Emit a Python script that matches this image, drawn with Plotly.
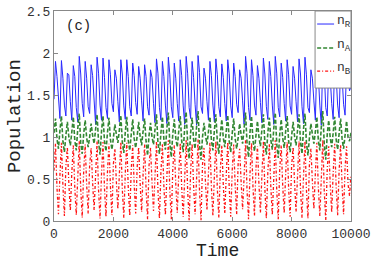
import plotly.graph_objects as go

# sample times (every 50 time units)
time = list(range(0, 10001, 50))

# n_R, one row per oscillation cycle (4 samples each)
nR_cycles = [
    [1.45,1.90,1.72,1.40],[1.22,1.91,1.70,1.38],[1.25,1.76,1.74,1.42],[1.20,1.85,1.72,1.35],
    [1.18,1.96,1.75,1.40],[1.24,1.90,1.70,1.36],[1.28,1.86,1.73,1.44],[1.15,1.95,1.76,1.38],
    [1.20,1.94,1.71,1.35],[1.22,1.92,1.74,1.40],[1.30,1.80,1.70,1.42],[1.18,1.92,1.75,1.37],
    [1.21,1.92,1.72,1.36],[1.25,1.88,1.73,1.41],[1.27,1.84,1.70,1.43],[1.19,1.86,1.72,1.36],
    [1.26,1.80,1.71,1.40],[1.17,1.93,1.76,1.35],[1.20,1.90,1.72,1.38],[1.16,1.95,1.74,1.36],
    [1.23,1.88,1.70,1.40],[1.19,1.92,1.73,1.37],[1.15,1.96,1.76,1.35],[1.22,1.90,1.71,1.39],
    [1.14,1.97,1.77,1.36],[1.28,1.82,1.70,1.42],[1.20,1.90,1.73,1.38],[1.18,1.93,1.74,1.36],
    [1.24,1.87,1.71,1.40],[1.19,1.92,1.75,1.37],[1.23,1.88,1.72,1.39],[1.29,1.80,1.70,1.43],
    [1.15,1.96,1.76,1.35],[1.20,1.92,1.73,1.38],[1.26,1.85,1.70,1.41],[1.17,1.94,1.75,1.36],
    [1.21,1.90,1.72,1.38],[1.15,1.96,1.76,1.35],[1.24,1.88,1.71,1.40],[1.19,1.92,1.74,1.37],
    [1.27,1.84,1.70,1.42],[1.18,1.93,1.75,1.36],[1.16,1.95,1.74,1.35],[1.29,1.80,1.70,1.43],
    [1.20,1.91,1.73,1.38],[1.14,1.98,1.77,1.35],[1.25,1.86,1.71,1.40],[1.21,1.90,1.73,1.38],
    [1.23,1.88,1.72,1.39],[1.26,1.83,1.70,1.55],
]
nR_end = [1.60]

nA_cycles = [
    [1.05,1.22,0.98,0.86],[1.08,1.25,0.95,0.82],[1.02,1.18,1.00,0.90],[1.06,1.24,0.96,0.84],
    [1.10,1.28,0.93,0.80],[1.04,1.20,0.99,0.88],[1.00,1.16,1.02,0.92],[1.09,1.27,0.94,0.79],
    [1.07,1.25,0.95,0.83],[1.05,1.23,0.97,0.85],[0.99,1.15,1.03,0.93],[1.08,1.26,0.94,0.81],
    [1.06,1.24,0.96,0.84],[1.03,1.21,0.98,0.87],[1.01,1.18,1.01,0.90],[1.07,1.22,0.95,0.78],
    [1.02,1.17,1.00,0.91],[1.09,1.27,0.93,0.80],[1.05,1.24,0.97,0.85],[1.10,1.29,0.92,0.76],
    [1.04,1.21,0.99,0.88],[1.07,1.25,0.95,0.82],[1.11,1.30,0.92,0.74],[1.05,1.23,0.97,0.86],
    [1.12,1.31,0.91,0.73],[1.00,1.17,1.02,0.91],[1.06,1.24,0.96,0.84],[1.08,1.27,0.94,0.80],
    [1.03,1.21,0.99,0.88],[1.07,1.26,0.95,0.82],[1.04,1.22,0.98,0.86],[0.99,1.16,1.03,0.92],
    [1.10,1.29,0.92,0.76],[1.06,1.25,0.96,0.83],[1.02,1.19,1.00,0.89],[1.09,1.27,0.93,0.79],
    [1.05,1.23,0.97,0.85],[1.10,1.29,0.92,0.75],[1.03,1.21,0.99,0.87],[1.07,1.25,0.95,0.82],
    [1.01,1.18,1.01,0.90],[1.08,1.27,0.94,0.80],[1.09,1.28,0.93,0.78],[0.99,1.16,1.03,0.92],
    [1.06,1.24,0.96,0.84],[1.12,1.31,0.91,0.73],[1.03,1.20,0.99,0.88],[1.05,1.24,0.97,0.85],
    [1.04,1.22,0.98,0.86],[1.02,1.19,1.00,0.95],
]
nA_end = [1.05]

nB_cycles = [
    [0.60,0.92,0.40,0.08],[0.55,0.93,0.42,0.06],[0.65,0.88,0.45,0.12],[0.58,0.90,0.40,0.07],
    [0.52,0.95,0.38,0.04],[0.60,0.91,0.43,0.09],[0.66,0.87,0.46,0.13],[0.54,0.95,0.37,0.03],
    [0.56,0.94,0.39,0.05],[0.58,0.92,0.41,0.07],[0.68,0.86,0.47,0.14],[0.55,0.94,0.38,0.04],
    [0.57,0.93,0.40,0.06],[0.61,0.90,0.43,0.09],[0.64,0.88,0.45,0.11],[0.56,0.91,0.39,0.02],
    [0.66,0.87,0.46,0.12],[0.53,0.95,0.37,0.03],[0.58,0.92,0.41,0.07],[0.52,0.96,0.36,0.02],
    [0.62,0.90,0.44,0.10],[0.56,0.93,0.39,0.05],[0.51,0.96,0.36,0.01],[0.59,0.92,0.42,0.08],
    [0.50,0.97,0.35,0.01],[0.67,0.87,0.46,0.13],[0.57,0.93,0.40,0.06],[0.54,0.95,0.38,0.04],
    [0.61,0.90,0.43,0.09],[0.55,0.94,0.39,0.05],[0.60,0.91,0.42,0.08],[0.68,0.86,0.47,0.14],
    [0.52,0.96,0.36,0.02],[0.57,0.93,0.40,0.06],[0.63,0.89,0.44,0.10],[0.54,0.95,0.38,0.03],
    [0.58,0.92,0.41,0.07],[0.51,0.96,0.36,0.02],[0.61,0.90,0.43,0.09],[0.56,0.94,0.39,0.05],
    [0.65,0.88,0.45,0.11],[0.54,0.95,0.38,0.04],[0.52,0.95,0.37,0.03],[0.68,0.86,0.47,0.14],
    [0.57,0.93,0.40,0.06],[0.50,0.97,0.35,0.01],[0.62,0.89,0.44,0.10],[0.58,0.92,0.41,0.07],
    [0.60,0.91,0.42,0.08],[0.63,0.89,0.44,0.30],
]
nB_end = [0.55]

nR = [v for row in nR_cycles for v in row] + nR_end
nA = [v for row in nA_cycles for v in row] + nA_end
nB = [v for row in nB_cycles for v in row] + nB_end

x_ticks = [0, 2000, 4000, 6000, 8000, 10000]
x_tick_labels = ["0", "2000", "4000", "6000", "8000", "10000"]
y_ticks = [0, 0.5, 1, 1.5, 2, 2.5]
y_tick_labels = ["0", "0.5", "1", "1.5", "2", "2.5"]
series_names = ["n<sub>R</sub>", "n<sub>A</sub>", "n<sub>B</sub>"]

mono = "Liberation Mono"
c_R = "rgb(40,40,255)"
c_A = "rgb(50,135,50)"
c_B = "rgb(255,20,20)"
d_A = "4px,2px"
d_B = "3px,2px,1px,2px"

fig = go.Figure()
fig.add_trace(go.Scatter(x=time, y=nR, mode="lines", name=series_names[0],
                         line=dict(color=c_R, width=1)))
fig.add_trace(go.Scatter(x=time, y=nA, mode="lines", name=series_names[1],
                         line=dict(color=c_A, width=1.6, dash=d_A)))
fig.add_trace(go.Scatter(x=time, y=nB, mode="lines", name=series_names[2],
                         line=dict(color=c_B, width=1.3, dash=d_B)))

axis_common = dict(showgrid=False, zeroline=False, showline=True, linecolor="#888888",
                   linewidth=1, mirror="ticks", ticks="inside", ticklen=4,
                   tickcolor="#888888", automargin=False,
                   tickfont=dict(family=mono, size=13, color="#333333"))

# hand-made legend box (to match the compact boxed legend of the original)
shapes = [dict(type="rect", xref="paper", yref="paper", x0=0.879, x1=1.0, y0=0.633, y1=1.0,
               fillcolor="white", line=dict(color="#888888", width=1), layer="above")]
leg_y = [0.938, 0.824, 0.714]
leg_style = [(c_R, 1, "solid"), (c_A, 1.6, d_A), (c_B, 1.3, d_B)]
annotations = []
for yy, (col, w, dsh), name in zip(leg_y, leg_style, series_names):
    shapes.append(dict(type="line", xref="paper", yref="paper", x0=0.886, x1=0.943,
                       y0=yy, y1=yy, line=dict(color=col, width=w, dash=dsh), layer="above"))
    annotations.append(dict(text=name, x=0.947, y=yy + 0.01, xref="paper", yref="paper",
                            xanchor="left", yanchor="middle", showarrow=False,
                            font=dict(family=mono, size=13, color="#333333")))

annotations += [
    dict(text="(c)", x=0.035, y=0.975, xref="paper", yref="paper",
         xanchor="left", yanchor="top", showarrow=False,
         font=dict(family=mono, size=14, color="#222222")),
    dict(text="Time", x=0.55, y=-0.145, xref="paper", yref="paper",
         xanchor="center", yanchor="middle", showarrow=False,
         font=dict(family=mono, size=18, color="#222222")),
    dict(text="Population", x=-0.131, y=0.5, xref="paper", yref="paper",
         xanchor="center", yanchor="middle", showarrow=False, textangle=-90,
         font=dict(family=mono, size=19, color="#222222")),
]

fig.update_layout(
    width=374, height=261,
    margin=dict(l=54, r=23, t=11, b=40),
    paper_bgcolor="white", plot_bgcolor="white",
    showlegend=False,
    xaxis=dict(range=[0, 10000], tickvals=x_ticks, ticktext=x_tick_labels, **axis_common),
    yaxis=dict(range=[0, 2.5], tickvals=y_ticks, ticktext=y_tick_labels, **axis_common),
    shapes=shapes,
    annotations=annotations,
)

# remove the browser's default 8px page margin so the figure sits at the window origin
fig.write_html("out.html", config={"displayModeBar": False},
               post_script="document.body.style.margin='0px';")
